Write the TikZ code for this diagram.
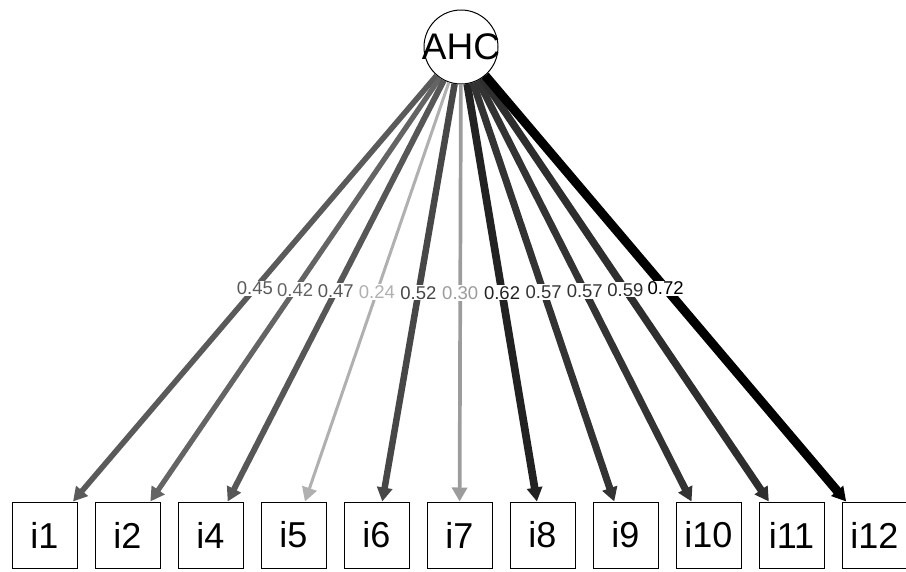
\documentclass[tikz,border=0pt]{standalone}
\usepackage{fontspec}
\setmainfont{Liberation Sans}
\usetikzlibrary{arrows.meta}
\definecolor{w45}{HTML}{5A5A5A}
\definecolor{w42}{HTML}{646464}
\definecolor{w47}{HTML}{575757}
\definecolor{w24}{HTML}{B0B0B0}
\definecolor{w52}{HTML}{474747}
\definecolor{w30}{HTML}{9C9C9C}
\definecolor{w62}{HTML}{222222}
\definecolor{w57}{HTML}{333333}
\definecolor{w59}{HTML}{2E2E2E}
\definecolor{w72}{HTML}{000000}
\tikzset{
  latnode/.style={circle, draw, line width=1pt, minimum size=74pt, inner sep=0pt},
  latlabel/.style={inner sep=0pt, font=\fontsize{37}{37}\selectfont},
  obsnode/.style={rectangle, draw, line width=1pt, minimum width=65pt, minimum height=66pt, inner sep=0pt, font=\fontsize{36}{36}\selectfont},
  loadarrow/.style={-{Triangle[length=14pt,width=15pt]}},
  loadlab/.style={fill=white, inner sep=1pt, pos=0.5, font=\fontsize{18.5}{18.5}\selectfont}
}
\begin{document}
\begin{tikzpicture}[x=1pt,y=-1pt]
\useasboundingbox (0,0) rectangle (906,571);
\node[latnode] (AHC) at (461,47) {};
\node[latlabel] (AHCtext) at (461,47) {AHC};
\node[obsnode] (i1) at (44.5,535) {i1};
\node[obsnode] (i2) at (127.5,535) {i2};
\node[obsnode] (i4) at (210.5,535) {i4};
\node[obsnode] (i5) at (293.5,535) {i5};
\node[obsnode] (i6) at (376.5,535) {i6};
\node[obsnode] (i7) at (459.5,535) {i7};
\node[obsnode] (i8) at (542.5,535) {i8};
\node[obsnode] (i9) at (625.5,535) {i9};
\node[obsnode] (i10) at (708.5,535) {i10};
\node[obsnode] (i11) at (791.5,535) {i11};
\node[obsnode] (i12) at (874.5,535) {i12};
\draw[loadarrow, line width=5.6pt, draw=w45, fill=w45] (AHC) -- (i1);
\draw[loadarrow, line width=5.2pt, draw=w42, fill=w42] (AHC) -- (i2);
\draw[loadarrow, line width=5.9pt, draw=w47, fill=w47] (AHC) -- (i4);
\draw[loadarrow, line width=3.0pt, draw=w24, fill=w24] (AHC) -- (i5);
\draw[loadarrow, line width=6.5pt, draw=w52, fill=w52] (AHC) -- (i6);
\draw[loadarrow, line width=3.7pt, draw=w30, fill=w30] (AHC) -- (i7);
\draw[loadarrow, line width=7.7pt, draw=w62, fill=w62] (AHC) -- (i8);
\draw[loadarrow, line width=7.1pt, draw=w57, fill=w57] (AHC) -- (i9);
\draw[loadarrow, line width=7.1pt, draw=w57, fill=w57] (AHC) -- (i10);
\draw[loadarrow, line width=7.4pt, draw=w59, fill=w59] (AHC) -- (i11);
\draw[loadarrow, line width=9.0pt, draw=w72, fill=w72] (AHC) -- (i12);
\path (AHC) -- node[loadlab, text=w45] {0.45} (i1);
\path (AHC) -- node[loadlab, text=w42] {0.42} (i2);
\path (AHC) -- node[loadlab, text=w47] {0.47} (i4);
\path (AHC) -- node[loadlab, text=w24] {0.24} (i5);
\path (AHC) -- node[loadlab, text=w52] {0.52} (i6);
\path (AHC) -- node[loadlab, text=w30] {0.30} (i7);
\path (AHC) -- node[loadlab, text=w62] {0.62} (i8);
\path (AHC) -- node[loadlab, text=w57] {0.57} (i9);
\path (AHC) -- node[loadlab, text=w57] {0.57} (i10);
\path (AHC) -- node[loadlab, text=w59] {0.59} (i11);
\path (AHC) -- node[loadlab, text=w72] {0.72} (i12);
\end{tikzpicture}
\end{document}
